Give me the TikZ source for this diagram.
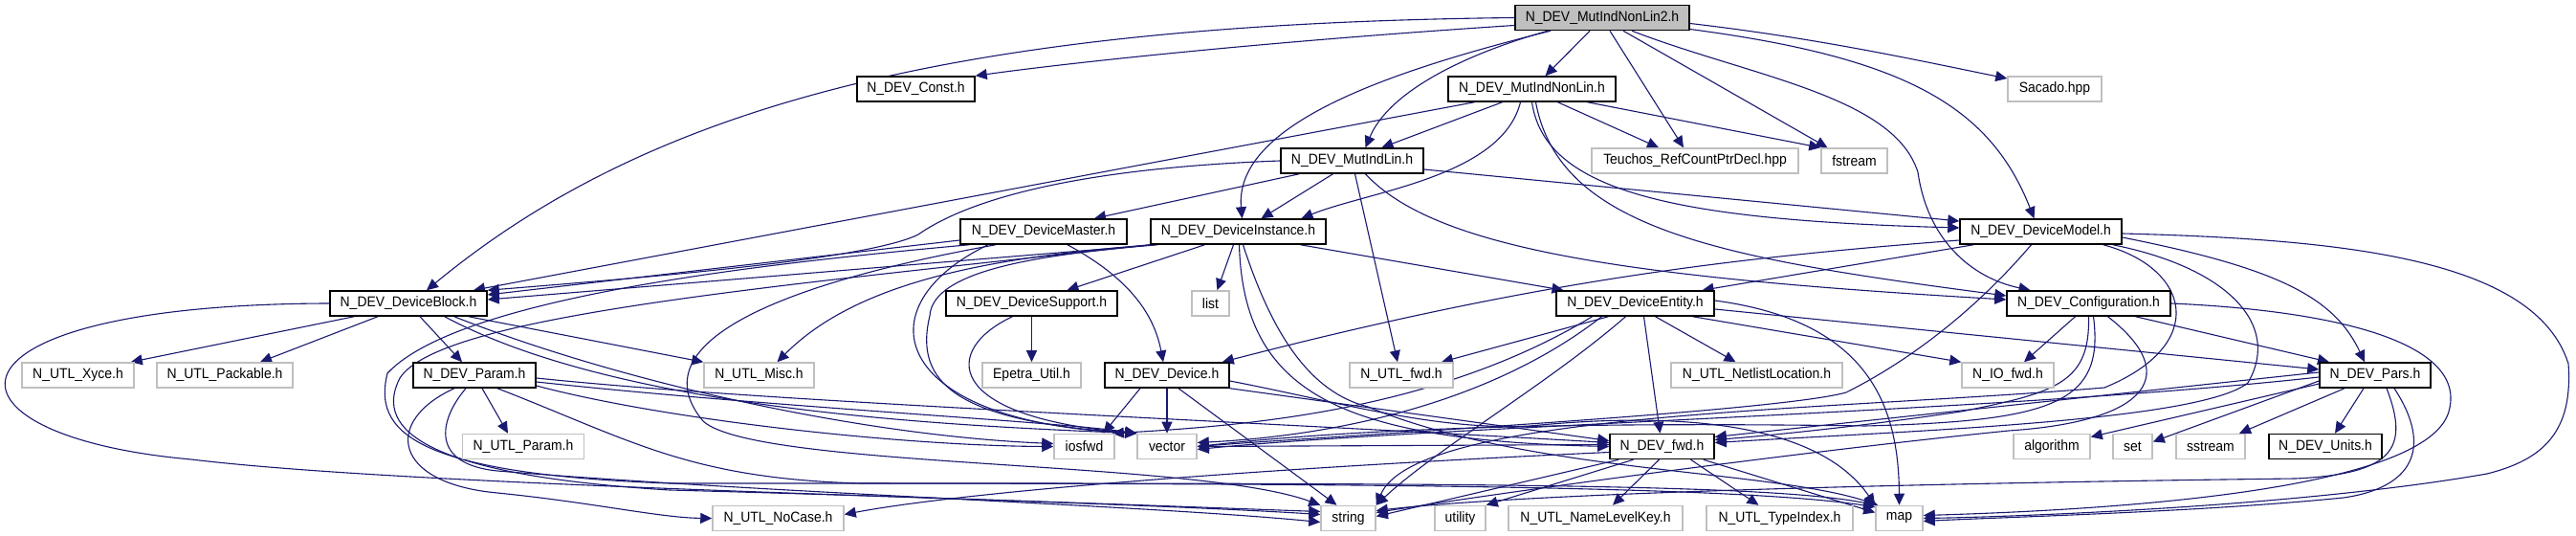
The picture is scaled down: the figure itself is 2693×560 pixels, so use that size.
\documentclass[tikz,border=0pt]{standalone}
\usepackage{fontspec}
\newfontfamily\dfont{Liberation Sans}[FakeStretch=0.93]
\usetikzlibrary{arrows.meta,calc}
\pgfdeclarelayer{bg}
\pgfsetlayers{bg,main}
\definecolor{edgeblue}{HTML}{191970}
\definecolor{extgray}{HTML}{BFBFBF}
\definecolor{rootfill}{HTML}{BFBFBF}
\tikzset{
  doc/.style={draw=black, line width=0.75pt, fill=white, inner sep=0pt, minimum height=13pt, font=\dfont\fontsize{7.5pt}{9pt}\selectfont, text=black},
  ext/.style={doc, draw=extgray},
  e/.style={draw=edgeblue, line width=0.55pt, -{Triangle[length=6pt,width=5.5pt]}}
}
\begin{document}
\begin{tikzpicture}[x=0.5pt,y=-0.5pt]
\useasboundingbox (0,0) rectangle (2693,560);
% nodes
\node[doc, fill=rootfill, minimum width=91pt] (nlb) at (1675,18.5) {N\_DEV\_MutIndNonLin2.h};
\node[doc, minimum width=61.5pt] (cnst) at (957.5,93) {N\_DEV\_Const.h};
\node[doc, minimum width=87.5pt] (nl) at (1601.5,93) {N\_DEV\_MutIndNonLin.h};
\node[ext, minimum width=49pt] (sac) at (2148,93) {Sacado.hpp};
\node[ext, minimum width=108pt] (teu) at (1772,168) {Teuchos\_RefCountPtrDecl.hpp};
\node[ext, minimum width=34.5pt] (fst) at (1938.5,168) {fstream};
\node[doc, minimum width=74.5pt] (lin) at (1413.5,168) {N\_DEV\_MutIndLin.h};
\node[doc, minimum width=87pt] (mst) at (1091,242) {N\_DEV\_DeviceMaster.h};
\node[doc, minimum width=91.5pt] (ins) at (1294.5,242) {N\_DEV\_DeviceInstance.h};
\node[doc, minimum width=84.5pt] (mdl) at (2133.5,242) {N\_DEV\_DeviceModel.h};
\node[doc, minimum width=82pt] (blk) at (427,317) {N\_DEV\_DeviceBlock.h};
\node[doc, minimum width=89.5pt] (sup) at (1078.5,317) {N\_DEV\_DeviceSupport.h};
\node[ext, minimum width=19.5pt] (lst) at (1265.5,317) {list};
\node[doc, minimum width=82.5pt] (ent) at (1709.5,317) {N\_DEV\_DeviceEntity.h};
\node[doc, minimum width=85.5pt] (cfg) at (2183.5,317) {N\_DEV\_Configuration.h};
\node[ext, minimum width=58.5pt] (xyc) at (81.5,392) {N\_UTL\_Xyce.h};
\node[ext, minimum width=71pt] (pak) at (235,392) {N\_UTL\_Packable.h};
\node[doc, minimum width=64pt] (prm) at (496,392) {N\_DEV\_Param.h};
\node[ext, minimum width=57.5pt] (msc) at (793.5,392) {N\_UTL\_Misc.h};
\node[ext, minimum width=51.5pt] (epu) at (1078.5,392) {Epetra\_Util.h};
\node[doc, minimum width=65pt] (dev) at (1220,392) {N\_DEV\_Device.h};
\node[ext, minimum width=54pt] (ufw) at (1465,392) {N\_UTL\_fwd.h};
\node[ext, minimum width=89.5pt] (nll) at (1836.5,392) {N\_UTL\_NetlistLocation.h};
\node[ext, minimum width=48pt] (iof) at (2099,392) {N\_IO\_fwd.h};
\node[doc, minimum width=58pt] (prs) at (2483,392) {N\_DEV\_Pars.h};
\node[ext, minimum width=63.5pt] (upr) at (547,466.5) {N\_UTL\_Param.h};
\node[ext, minimum width=31.5pt] (iow) at (1133.5,466.5) {iosfwd};
\node[ext, minimum width=31pt] (vec) at (1220,466.5) {vector};
\node[doc, minimum width=54.5pt] (dfw) at (1737.5,466.5) {N\_DEV\_fwd.h};
\node[ext, minimum width=40pt] (alg) at (2145,466.5) {algorithm};
\node[ext, minimum width=20.5pt] (st) at (2229.5,466.5) {set};
\node[ext, minimum width=36pt] (sst) at (2311,466.5) {sstream};
\node[doc, minimum width=59pt] (uni) at (2431,466.5) {N\_DEV\_Units.h};
\node[ext, minimum width=68.5pt] (noc) at (813.5,541.5) {N\_UTL\_NoCase.h};
\node[ext, minimum width=28.5pt] (str) at (1409.5,541.5) {string};
\node[ext, minimum width=26.5pt] (utl) at (1526.5,541.5) {utility};
\node[ext, minimum width=91pt] (nlk) at (1668,541.5) {N\_UTL\_NameLevelKey.h};
\node[ext, minimum width=76.5pt] (tyi) at (1860.5,541.5) {N\_UTL\_TypeIndex.h};
\node[ext, minimum width=24.5pt] (mp) at (1985.5,541.5) {map};
\begin{pgfonlayer}{bg}
\fill[white] (0,0) rectangle (2693,560);
% N_DEV_MutIndNonLin2.h
\draw[e] (nlb.west) .. controls (1000,25) and (680,110) .. ($(blk.north)+(19,0)$);
\draw[e] ($(nlb.west)+(0,8)$) .. controls (1300,45) and (1100,68) .. (cnst.north east);
\draw[e] ($(nlb.south)+(-54,0)$) .. controls (1450,75) and (1290,130) .. ($(ins.north)+(4,0)$);
\draw[e] ($(nlb.south)+(-13,0)$) -- ($(nl.north)+(14,0)$);
\draw[e] ($(nlb.south)+(-57,0)$) .. controls (1520,60) and (1450,100) .. ($(lin.north)+(14,0)$);
\draw[e] ($(nlb.south)+(8,0)$) -- ($(teu.north)+(-12,0)$);
\draw[e] ($(nlb.south)+(22,0)$) -- ($(fst.north)+(-28,0)$);
\draw[e] ($(nlb.east)+(0,6)$) .. controls (1900,40) and (2000,62) .. ($(sac.west)+(0,-11)$);
\draw[e] ($(nlb.east)+(0,12)$) .. controls (1990,60) and (2080,110) .. ($(mdl.north)+(-7,0)$);
\draw[e] ($(nlb.south)+(31,0)$) .. controls (1830,80) and (1980,100) .. (2005,180) .. controls (2015,250) and (2060,290) .. ($(cfg.north)+(-61,0)$);
% N_DEV_MutIndNonLin.h
\draw[e] ($(nl.south)+(-60,0)$) -- ($(blk.north)+(68,0)$);
\draw[e] ($(nl.south)+(-31,0)$) -- ($(lin.north)+(31,0)$);
\draw[e] ($(nl.south)+(-12,0)$) .. controls (1570,185) and (1430,200) .. ($(ins.north)+(66,0)$);
\draw[e] ($(nl.south)+(27,0)$) -- ($(teu.north)+(-38,0)$);
\draw[e] ($(nl.south)+(58,0)$) -- (fst.north west);
\draw[e] (nl.south) .. controls (1615,200) and (1750,230) .. ($(mdl.west)+(0,-4)$);
\draw[e] ($(nl.south)+(4,0)$) .. controls (1630,240) and (1800,270) .. ($(cfg.west)+(0,-8)$);
% N_DEV_MutIndLin.h
\draw[e] (lin.west) .. controls (1120,176) and (1010,210) .. (960,245) .. controls (910,270) and (700,288) .. (blk.north east);
\draw[e] ($(lin.south west)+(20,0)$) -- ($(mst.north)+(53,0)$);
\draw[e] ($(lin.south)+(-20,0)$) -- ($(ins.north)+(24,0)$);
\draw[e] ($(lin.south)+(3,0)$) -- ($(ufw.north)+(-4,0)$);
\draw[e] ($(lin.east)+(0,9)$) -- ($(mdl.west)+(0,-11)$);
\draw[e] ($(lin.south)+(14,0)$) .. controls (1500,260) and (1700,290) .. ($(cfg.west)+(0,-4)$);
% N_DEV_DeviceMaster.h
\draw[e] ($(mst.west)+(0,9)$) -- ($(blk.east)+(0,-9)$);
\draw[e] ($(mst.south)+(25,0)$) .. controls (1170,285) and (1205,320) .. ($(dev.north)+(-4,0)$);
\draw[e] ($(mst.south)+(-58,0)$) .. controls (900,320) and (930,440) .. (vec.north west);
\draw[e] ($(mst.south)+(-50,0)$) .. controls (850,290) and (660,350) .. (735,440) .. controls (790,490) and (1250,480) .. (str.north west);
\draw[e] ($(mst.south west)+(10,0)$) .. controls (800,275) and (480,310) .. (405,390) .. controls (390,450) and (430,495) .. (700,505) .. controls (1300,505) and (1800,505) .. ($(mp.north west)+(0,2)$);
% N_DEV_DeviceInstance.h
\draw[e] ($(ins.south west)+(5,0)$) -- ($(blk.east)+(0,-4)$);
\draw[e] ($(ins.south)+(-35,0)$) -- ($(sup.north)+(37,0)$);
\draw[e] ($(ins.south)+(-5,0)$) -- ($(lst.north)+(7,0)$);
\draw[e] ($(ins.south west)+(2,0)$) .. controls (1050,268) and (900,290) .. ($(msc.north)+(19,0)$);
\draw[e] ($(ins.south)+(65,0)$) -- ($(ent.north)+(-75,0)$);
\draw[e] ($(ins.south)+(1,0)$) .. controls (1300,410) and (1400,460) .. (dfw.west);
\draw[e] ($(ins.south)+(5,0)$) .. controls (1330,350) and (1370,410) .. (1430,425) .. controls (1600,495) and (1850,490) .. ($(mp.north west)+(3,0)$);
\draw[e] ($(ins.south west)+(8,0)$) .. controls (1100,265) and (975,280) .. (972,330) .. controls (955,400) and (1000,440) .. (vec.north west);
\draw[e] (ins.south west) .. controls (800,300) and (460,330) .. (418,395) .. controls (395,440) and (420,495) .. (700,512) .. controls (1000,520) and (1250,530) .. ($(str.west)+(0,-7)$);
% N_DEV_DeviceBlock.h
\draw[e] ($(blk.south west)+(26,0)$) -- ($(xyc.north east)+(-4,0)$);
\draw[e] ($(blk.south)+(-32,0)$) -- ($(pak.north)+(37,0)$);
\draw[e] ($(blk.south)+(12,0)$) -- ($(prm.north)+(-13,0)$);
\draw[e] ($(blk.south east)+(-20,0)$) -- (msc.north west);
\draw[e] ($(blk.south east)+(-35,0)$) .. controls (650,400) and (900,455) .. ($(iow.west)+(0,-3)$);
\draw[e] ($(blk.south east)+(-45,0)$) .. controls (650,430) and (1000,445) .. (vec.north west);
\draw[e] (blk.west) .. controls (-80,318) and (-80,455) .. (200,480) .. controls (450,510) and (1100,520) .. ($(str.west)+(0,-4)$);
% N_DEV_Param.h
\draw[e] ($(prm.south)+(8,0)$) -- ($(upr.north)+(-16,0)$);
\draw[e] ($(prm.east)+(0,3)$) .. controls (800,420) and (1300,440) .. ($(dfw.west)+(0,-4)$);
\draw[e] ($(prm.east)+(0,7)$) .. controls (800,425) and (1100,440) .. (vec.north west);
\draw[e] ($(prm.east)+(0,11)$) .. controls (700,440) and (950,466) .. (iow.west);
\draw[e] ($(prm.south)+(24,0)$) .. controls (660,460) and (720,500) .. (900,505) .. controls (1500,505) and (1850,505) .. (mp.north west);
\draw[e] ($(prm.south)+(-9,0)$) .. controls (458,440) and (450,485) .. (520,492) .. controls (800,515) and (1200,528) .. ($(str.west)+(0,4)$);
\draw[e] ($(prm.south)+(-21,0)$) .. controls (400,440) and (410,505) .. (520,515) .. controls (620,525) and (690,541) .. (noc.west);
% N_DEV_DeviceSupport.h
\draw[e] (sup.south) -- (epu.north);
\draw[e] ($(sup.south)+(-20,0)$) .. controls (985,365) and (985,435) .. (vec.north west);
% N_DEV_Device.h
\draw[e] ($(dev.south)+(-28,0)$) -- ($(iow.north)+(20,0)$);
\draw[e] (dev.south) -- (vec.north);
\draw[e] ($(dev.south)+(12,0)$) -- ($(str.north)+(-12,0)$);
\draw[e] (dev.south east) -- ($(dfw.west)+(0,-6)$);
\draw[e] ($(dev.east)+(0,6)$) .. controls (1400,420) and (1500,450) .. (1600,445) .. controls (1750,430) and (1900,440) .. (mp.north west);
% N_DEV_DeviceEntity.h
\draw[e] ($(ent.south)+(-28,0)$) -- ($(ufw.north)+(42,0)$);
\draw[e] ($(ent.south)+(21,0)$) -- ($(nll.north)+(-22,0)$);
\draw[e] ($(ent.south)+(60,0)$) -- (iof.north west);
\draw[e] ($(ent.east)+(0,6)$) -- ($(prs.west)+(0,-6)$);
\draw[e] ($(ent.south)+(9,0)$) -- ($(dfw.north)+(-2,0)$);
\draw[e] ($(ent.east)+(0,-3)$) .. controls (1950,335) and (1985,420) .. (mp.north);
\draw[e] ($(ent.south)+(-10,0)$) .. controls (1620,400) and (1500,470) .. (str.north east);
\draw[e] ($(ent.south)+(-35,0)$) .. controls (1560,420) and (1400,455) .. ($(vec.east)+(0,-4)$);
\draw[e] ($(ent.south)+(-45,0)$) .. controls (1500,430) and (1300,445) .. ($(iow.north east)+(-3,0)$);
% N_DEV_DeviceModel.h
\draw[e] ($(mdl.south west)+(15,0)$) -- ($(ent.north)+(70,0)$);
\draw[e] ($(mdl.west)+(0,9)$) .. controls (1800,270) and (1600,295) .. ($(dev.north east)+(-8,0)$);
\draw[e] ($(mdl.south)+(-10,0)$) .. controls (2060,330) and (1990,380) .. (1930,410) .. controls (1860,430) and (1400,455) .. (vec.east);
\draw[e] ($(mdl.east)+(0,6)$) .. controls (2380,280) and (2440,310) .. ($(prs.north)+(-11,0)$);
\draw[e] ($(mdl.east)+(0,2)$) .. controls (2450,250) and (2650,270) .. (2685,380) .. controls (2690,450) and (2660,480) .. (2600,495) .. controls (2400,530) and (2100,540) .. (mp.east);
\draw[e] ($(mdl.south east)+(-10,0)$) .. controls (2330,280) and (2385,340) .. (2350,400) .. controls (2300,440) and (2000,450) .. ($(dfw.east)+(0,-4)$);
\draw[e] ($(mdl.south east)+(-20,0)$) .. controls (2290,280) and (2310,360) .. (2200,405) .. controls (1900,430) and (1480,430) .. (str.north east);
% N_DEV_Configuration.h
\draw[e] ($(cfg.south)+(-14,0)$) -- ($(iof.north)+(17,0)$);
\draw[e] ($(cfg.south)+(49,0)$) -- ($(prs.north)+(-48,0)$);
\draw[e] (cfg.east) .. controls (2450,325) and (2580,360) .. (2560,430) .. controls (2540,500) and (2300,530) .. ($(mp.east)+(0,-3)$);
\draw[e] (cfg.south) .. controls (2185,400) and (2150,410) .. (2050,430) .. controls (1950,445) and (1850,455) .. ($(dfw.east)+(0,-7)$);
\draw[e] ($(cfg.south)+(5,0)$) .. controls (2200,420) and (2150,440) .. (1950,445) .. controls (1600,440) and (1400,450) .. (vec.east);
\draw[e] ($(cfg.south)+(20,0)$) .. controls (2280,390) and (2250,440) .. (2100,450) .. controls (1900,470) and (1600,510) .. ($(str.east)+(0,-6)$);
% N_DEV_Pars.h
\draw[e] ($(prs.south)+(-12,0)$) -- ($(uni.north)+(10,0)$);
\draw[e] ($(prs.south)+(-32,0)$) -- ($(sst.north)+(30,0)$);
\draw[e] ($(prs.west)+(0,6)$) -- ($(st.east)+(0,-5)$);
\draw[e] ($(prs.west)+(0,9)$) -- ($(alg.east)+(0,-10)$);
\draw[e] ($(prs.west)+(0,-3)$) -- ($(dfw.east)+(0,-10)$);
\draw[e] ($(prs.west)+(0,2)$) .. controls (2100,430) and (1500,445) .. ($(vec.east)+(0,3)$);
\draw[e] ($(prs.south)+(12,0)$) .. controls (2520,470) and (2500,495) .. (2400,500) .. controls (2000,505) and (1600,515) .. ($(str.east)+(0,-8)$);
\draw[e] ($(prs.south)+(20,0)$) .. controls (2545,470) and (2520,510) .. (2450,520) .. controls (2300,535) and (2100,540) .. ($(mp.east)+(0,3)$);
% N_DEV_fwd.h
\draw[e] ($(dfw.south west)+(10,0)$) -- ($(str.east)+(0,-2)$);
\draw[e] ($(dfw.south)+(-30,0)$) -- (utl.north east);
\draw[e] ($(dfw.south)+(-3,0)$) -- ($(nlk.north)+(18,0)$);
\draw[e] ($(dfw.south)+(30,0)$) -- ($(tyi.north)+(-22,0)$);
\draw[e] ($(dfw.south east)+(-12,0)$) -- ($(mp.west)+(0,-6)$);
\draw[e] ($(dfw.west)+(0,6)$) .. controls (1300,490) and (1000,515) .. ($(noc.east)+(0,-4)$);
\draw[e] ($(dfw.west)+(0,-2)$) -- (vec.east);
\end{pgfonlayer}
\end{tikzpicture}
\end{document}
